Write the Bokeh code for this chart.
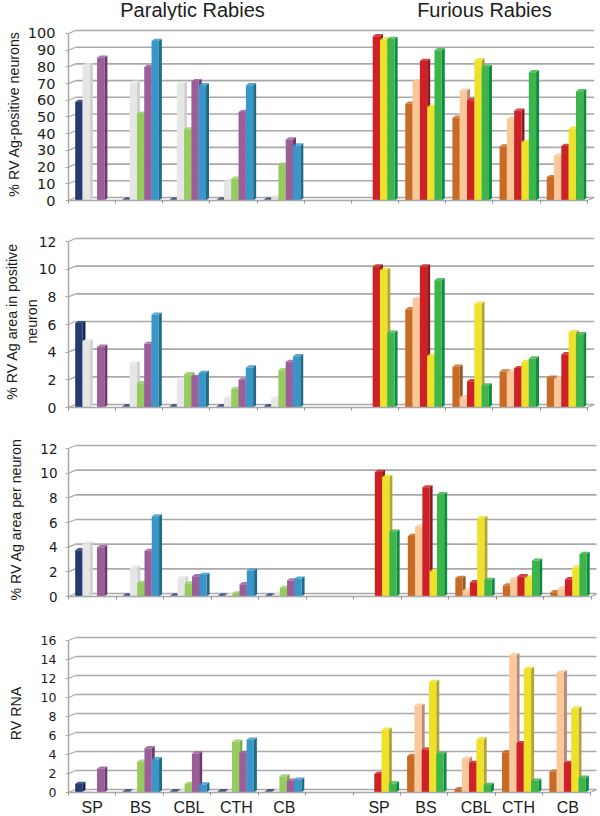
from bokeh.plotting import figure
from bokeh.layouts import column
from bokeh.models import Range1d, FixedTicker
from bokeh.core.properties import value
from bokeh.embed import file_html
from bokeh.resources import INLINE

regions = ["SP", "BS", "CBL", "CTH", "CB"]
label_slots = [0.5, 1.52, 2.54, 3.54, 4.55, 6.55, 7.54, 8.6, 9.49, 10.53]
colors = ["#253a70", "#e6e6e6", "#96cb5e", "#9b5e99", "#3a96c9",
          "#c96a25", "#fac898", "#cf2026", "#efe128", "#3cb54a"]
side_colors = ["#14254f", "#d0d0d0", "#7fa94f", "#6d3a6d", "#1f6d85",
               "#8e5a28", "#b88a78", "#8e1a1e", "#b0a531", "#0e8a42"]

# Paralytic series (one value per region)
pos_dark = [59, 0.5, 0.5, 0.5, 0.5]
pos_white = [81, 70.5, 70, 11.5, 2]
pos_green = [0, 52, 42.5, 13, 21.5]
pos_purple = [85.5, 80, 71.5, 53, 36.6]
pos_blue = [0, 95.5, 69, 69, 33]
# Furious series
pos_orange = [0, 58, 49.6, 32.4, 14]
pos_peach = [0, 71.5, 65.8, 49, 26.8]
pos_red = [98.4, 83.6, 60, 53.8, 32.6]
pos_yellow = [96.4, 56, 84, 35, 43]
pos_lime = [96.8, 90, 80, 76.8, 65.4]

area_dark = [6.1, 0.08, 0.08, 0.08, 0.08]
area_white = [4.8, 3.2, 2.05, 0.7, 0.65]
area_green = [0, 1.75, 2.4, 1.35, 2.7]
area_purple = [4.4, 4.6, 2.2, 2.0, 3.3]
area_blue = [0, 6.7, 2.5, 2.9, 3.7]
area_orange = [0, 7.1, 2.95, 2.6, 2.15]
area_peach = [0, 7.85, 0.75, 2.6, 2.1]
area_red = [10.2, 10.2, 1.9, 2.85, 3.85]
area_yellow = [9.95, 3.75, 7.5, 3.3, 5.45]
area_lime = [5.4, 9.2, 1.6, 3.55, 5.3]

per_dark = [3.75, 0.06, 0.06, 0.06, 0.06]
per_white = [4.3, 2.35, 1.5, 0.1, 0.15]
per_green = [0, 1.1, 1.05, 0.25, 0.7]
per_purple = [4.0, 3.7, 1.65, 1.0, 1.3]
per_blue = [0, 6.5, 1.75, 2.1, 1.45]
per_orange = [0, 4.9, 1.5, 0.9, 0.35]
per_peach = [0, 5.65, 0.5, 1.4, 0.65]
per_red = [10.1, 8.85, 1.15, 1.65, 1.4]
per_yellow = [9.7, 2.05, 6.35, 1.55, 2.35]
per_lime = [5.25, 8.3, 1.35, 2.9, 3.45]

rna_dark = [0.9, 0.1, 0.1, 0.1, 0.1]
rna_white = [0.05, 0.1, 0.1, 0.05, 0.1]
rna_green = [0, 3.25, 0.9, 5.35, 1.7]
rna_purple = [2.5, 4.65, 4.1, 4.15, 1.25]
rna_blue = [0, 3.5, 0.85, 5.55, 1.35]
rna_orange = [0, 3.85, 0.35, 4.25, 2.2]
rna_peach = [0, 9.15, 3.55, 14.45, 12.65]
rna_red = [1.95, 4.5, 3.1, 5.2, 3.1]
rna_yellow = [6.6, 11.65, 5.6, 13.0, 8.85]
rna_lime = [0.95, 4.05, 0.8, 1.25, 1.55]

panels = [
    dict(series=[pos_dark, pos_white, pos_green, pos_purple, pos_blue,
                 pos_orange, pos_peach, pos_red, pos_yellow, pos_lime],
         ticks=list(range(0, 101, 10)), vmax=100, left=68, right=586.7, ytop=33.3, y0=200.5,
         ftop=20, fbot=216, tick_size=14.5, tick_standoff=10,
         ylabel="% RV Ag-positive neurons", ylabel_standoff=3),
    dict(series=[area_dark, area_white, area_green, area_purple, area_blue,
                 area_orange, area_peach, area_red, area_yellow, area_lime],
         ticks=list(range(0, 13, 2)), vmax=12, left=67, right=586.7, ytop=240.7, y0=406.7,
         ftop=216, fbot=415, tick_size=14, tick_standoff=9,
         ylabel="% RV Ag area in positive\nneuron", ylabel_standoff=-4),
    dict(series=[per_dark, per_white, per_green, per_purple, per_blue,
                 per_orange, per_peach, per_red, per_yellow, per_lime],
         ticks=list(range(0, 13, 2)), vmax=12, left=66, right=590.7, ytop=448.3, y0=595.7,
         ftop=415, fbot=608, tick_size=13.5, tick_standoff=8,
         ylabel="% RV Ag area per neuron", ylabel_standoff=13),
    dict(series=[rna_dark, rna_white, rna_green, rna_purple, rna_blue,
                 rna_orange, rna_peach, rna_red, rna_yellow, rna_lime],
         ticks=list(range(0, 17, 2)), vmax=16, left=66.7, right=589.3, ytop=640, y0=791.7,
         ftop=608, fbot=800, tick_size=12.5, tick_standoff=9,
         ylabel="RV RNA", ylabel_standoff=14),
]
panel_titles = ["Paralytic Rabies", "Furious Rabies"]
title_slots = [2.63, 8.82]

GRID = "#a9a9a9"
TEXT = "#1c1c1c"
BAR_PX = 7.3
OFFSET_PX = 6.7
DEPTH_X = 3.0
DEPTH_Y = 2.2
WALL_X = 7.0
WALL_Y = 3.0
R = 4
W = 600


def text_strip(cfg, height, baseline_y, labels, slots, size, margin=(0, 0, 0, 0)):
    L = round(cfg["left"])
    slot = (cfg["right"] - cfg["left"]) / 11
    p = figure(width=W, height=height, output_backend="svg", toolbar_location=None,
               min_border_left=L, min_border_right=R, min_border_top=0, min_border_bottom=0,
               x_axis_type=None, y_axis_type=None, margin=margin,
               x_range=Range1d(0, (W - L - R) / slot), y_range=Range1d(0, height))
    p.outline_line_color = None
    p.grid.visible = False
    p.background_fill_color = None
    p.border_fill_color = None
    p.text(x=slots, y=[baseline_y] * len(slots), text=labels,
           text_align="center", text_baseline="middle",
           text_font=value("Liberation Sans"), text_font_size=size, text_color=TEXT)
    return p


def draw_panel(cfg):
    L = round(cfg["left"])
    slot = (cfg["right"] - cfg["left"]) / 11
    ppu = (cfg["y0"] - cfg["ytop"]) / cfg["vmax"]
    H = cfg["fbot"] - cfg["ftop"]
    T = round(cfg["ytop"] - 6 - cfg["ftop"])
    B = cfg["fbot"] - round(cfg["y0"])
    p = figure(width=W, height=H, output_backend="svg", toolbar_location=None,
               min_border_left=L, min_border_right=R, min_border_top=T, min_border_bottom=B,
               x_range=Range1d(0, (W - L - R) / slot),
               y_range=Range1d(0, cfg["vmax"] + 6 / ppu))
    p.outline_line_color = None
    p.grid.visible = False
    p.background_fill_color = "white"

    xa, ya = p.xaxis[0], p.yaxis[0]
    xa.bounds = (0, 11)
    xa.ticker = FixedTicker(ticks=list(range(12)))
    xa.major_tick_in, xa.minor_tick_in = 0, 0
    xa.major_tick_out, xa.minor_tick_out = 3, 0
    xa.axis_line_color = GRID
    xa.axis_line_width = 1.5
    xa.major_tick_line_color = "#8f8f8f"
    xa.major_label_text_font_size = "0px"
    xa.major_label_text_color = None
    xa.major_label_standoff = 0

    ya.ticker = FixedTicker(ticks=cfg["ticks"])
    ya.bounds = (0, cfg["vmax"])
    ya.major_tick_out, ya.major_tick_in, ya.minor_tick_out, ya.minor_tick_in = 3, 0, 0, 0
    ya.major_tick_line_color = GRID
    ya.axis_line_color = GRID
    ya.axis_line_width = 1.5
    ya.major_label_standoff = cfg["tick_standoff"]
    ya.major_label_text_font = "DejaVu Sans"
    ya.major_label_text_font_size = f'{cfg["tick_size"]}px'
    ya.major_label_text_color = TEXT
    ya.axis_label = cfg["ylabel"]
    ya.axis_label_standoff = cfg["ylabel_standoff"]
    ya.axis_label_text_font = "Liberation Sans"
    ya.axis_label_text_font_style = "normal"
    ya.axis_label_text_font_size = "14.2px"
    ya.axis_label_text_color = TEXT

    wx, wy = WALL_X / slot, WALL_Y / ppu
    # back wall grid lines and the slanted joins to the axis
    p.segment(x0=[wx] * len(cfg["ticks"]), x1=[11 + wx] * len(cfg["ticks"]),
              y0=[t + wy for t in cfg["ticks"]], y1=[t + wy for t in cfg["ticks"]],
              line_color=GRID, line_width=1.6)
    p.segment(x0=[0] * len(cfg["ticks"]), x1=[wx] * len(cfg["ticks"]),
              y0=cfg["ticks"], y1=[t + wy for t in cfg["ticks"]],
              line_color=GRID, line_width=1.2)
    p.segment(x0=[11], x1=[11 + wx], y0=[0], y1=[wy], line_color=GRID, line_width=1.2)

    w = BAR_PX / slot
    off = OFFSET_PX / slot
    dx, dy = DEPTH_X / slot, DEPTH_Y / ppu
    for s, values in enumerate(cfg["series"]):
        base_slot = 0 if s < 5 else 6
        lane = s if s < 5 else s - 5
        xs_side, ys_side, xs_top, ys_top, lefts, rights, tops = [], [], [], [], [], [], []
        for g, v in enumerate(values):
            if v <= 0:
                continue
            x0 = base_slot + g + off + lane * w
            x1 = x0 + w
            xs_side.append([x1, x1 + dx, x1 + dx, x1])
            ys_side.append([0, dy, v + dy, v])
            xs_top.append([x0, x1, x1 + dx, x0 + dx])
            ys_top.append([v, v, v + dy, v + dy])
            lefts.append(x0)
            rights.append(x1)
            tops.append(v)
        p.patches(xs_side, ys_side, fill_color=side_colors[s], line_color=None)
        p.patches(xs_top, ys_top, fill_color=colors[s], fill_alpha=0.85, line_color=None)
        p.quad(left=lefts, right=rights, bottom=0, top=tops,
               fill_color=colors[s], line_color=None)
    return p


top_strip = text_strip(panels[0], 20, 11, panel_titles, title_slots, "20px")
figs = [draw_panel(c) for c in panels]
bottom_strip = text_strip(panels[3], 20, 9, regions + regions, label_slots, "16px", margin=(-4, 0, 0, 0))
page = column(top_strip, *figs, bottom_strip, spacing=0)
open("out.html", "w").write(file_html(page, INLINE))
